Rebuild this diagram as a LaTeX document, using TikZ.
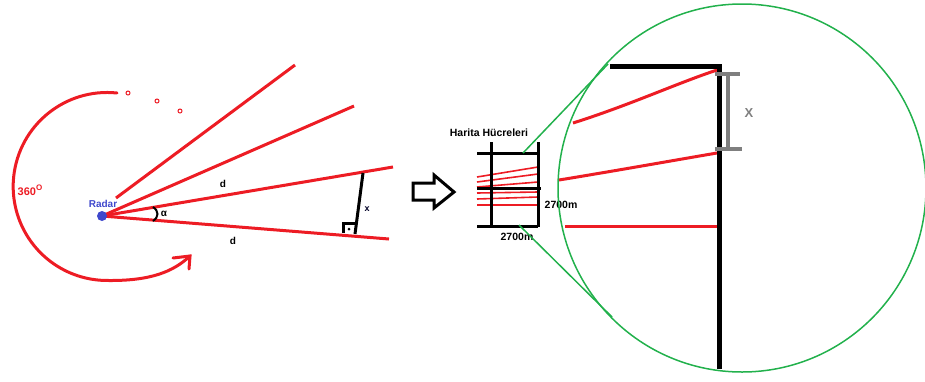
\documentclass[tikz,border=0pt]{standalone}
\usepackage{fontspec}
\setmainfont{Liberation Sans}
\definecolor{pred}{HTML}{ED1C24}
\definecolor{pgreen}{HTML}{22B14C}
\definecolor{pblue}{HTML}{3F48CC}
\definecolor{pgray}{HTML}{7F7F7F}
\tikzset{
  redln/.style={draw=pred,line width=3pt},
  blkln/.style={draw=black,line width=3pt},
  bigblk/.style={draw=black,line width=5pt},
  grnln/.style={draw=pgreen,line width=1.5pt},
  gryln/.style={draw=pgray,line width=3.5pt},
  lbl/.style={inner sep=0pt,font=\bfseries\fontsize{10}{12}\selectfont},
}
\begin{document}
\begin{tikzpicture}[x=1pt,y=-1pt]
\useasboundingbox (0,0) rectangle (925,381);
% ---------- left: radar ----------
\coordinate (R) at (102,216);
\coordinate (l1s) at (116,198); \coordinate (l1e) at (295,65);
\coordinate (l2e) at (354,106);
\coordinate (l3e) at (393,167);
\coordinate (l4e) at (389,239);
\draw[redln] (l1s) -- (l1e);
\draw[redln] (R) -- (l2e);
\draw[redln] (R) -- (l3e);
\draw[redln] (R) -- (l4e);
\node[circle,fill=pblue,minimum size=10pt,inner sep=0pt] (radar) at (R) {};
\node[lbl,text=pblue] (radarlbl) at (103,204) {Radar};
% sweep arc
\coordinate (as) at (117,93);
\coordinate (ae) at (190,256);
\draw[redln,line cap=round] (as) arc[start angle=-84,end angle=-270,radius=94]
  .. controls (150,281) and (173,272) .. (ae);
\coordinate (ah1) at (173,258); \coordinate (ah2) at (189,269);
\draw[redln,line cap=round,line join=miter] (ah1) -- (ae) -- (ah2);
\node[inner sep=0pt,text=pred,font=\bfseries\fontsize{11}{12}\selectfont] (deg) at (30,190) {360\raisebox{0.45em}{\fontsize{8}{8}\selectfont O}};
% dots
\foreach \p/\n in {(128,93)/da,(157,101)/db,(180,111)/dc}
  \node[circle,draw=pred,line width=1pt,fill=white,minimum size=4pt,inner sep=0pt] (\n) at \p {};
% labels d, alpha
\node[lbl] (d1) at (223,184) {d};
\node[lbl] (d2) at (233,241) {d};
\coordinate (b1) at (153,207); \coordinate (b2) at (153,221);
\draw[line width=2pt] (b1) .. controls (159,211) and (159,217) .. (b2);
\node[lbl] (alpha) at (164,214) {α};
% perpendicular x
\coordinate (p1) at (363,173); \coordinate (p2) at (355,234);
\draw[blkln] (p1) -- (p2);
\coordinate (q1) at (343,233); \coordinate (q2) at (343,223); \coordinate (q3) at (357,223);
\draw[blkln,line join=miter] (q1) -- (q2) -- (q3);
\fill (349,229) circle (1.5pt);
\node[lbl,font=\bfseries\fontsize{9}{10}\selectfont,text=black!85!blue] (xl) at (367,209) {x};
% ---------- hollow arrow ----------
\draw[line width=3pt,line join=miter] (413,183) -- (434,183) -- (434,175) -- (454,192)
  -- (434,208) -- (434,200) -- (413,200) -- cycle;
% ---------- grid ----------
\node[lbl,font=\bfseries\fontsize{10.5}{12}\selectfont] (title) at (489,133) {Harita Hücreleri};
\foreach \a/\b in {177/167,182/174,187/182,193/192,199/197,205/205}
  \draw[draw=pred,line width=1.6pt] (477,\a) -- (538,\b);
\draw[blkln] (491,142) -- (491,227);
\draw[blkln] (538,142) -- (538,227);
\draw[blkln] (477,153) -- (538,153);
\draw[blkln] (477,226) -- (538,226);
\draw[blkln] (477,188) -- (541,188);
\node[lbl,font=\bfseries\fontsize{10.5}{12}\selectfont] (w1) at (561,205) {2700m};
\node[lbl,font=\bfseries\fontsize{10.5}{12}\selectfont] (w2) at (517,237) {2700m};
% ---------- magnifier ----------
\coordinate (gc) at (742,188);
\draw[grnln] (gc) circle (184);
\coordinate (g1) at (523,153); \coordinate (g2) at (608,64);
\coordinate (g3) at (519,225); \coordinate (g4) at (612,317);
\draw[grnln] (g1) -- (g2);
\draw[grnln] (g3) -- (g4);
\coordinate (r1s) at (573,123); \coordinate (r1e) at (717,70);
\coordinate (r2s) at (559,180); \coordinate (r2e) at (717,153);
\coordinate (r3s) at (565,226); \coordinate (r3e) at (717,226);
\draw[redln] (r1s) .. controls (630,105) and (675,84) .. (r1e);
\draw[redln] (r2s) .. controls (620,170) and (670,161) .. (r2e);
\draw[redln] (r3s) -- (r3e);
\coordinate (k1) at (610,66); \coordinate (k2) at (719,66); \coordinate (k3) at (719,369);
\draw[bigblk,line join=miter] (k1) -- (k2) -- (k3);
\coordinate (i1) at (728,74); \coordinate (i2) at (728,149);
\draw[gryln] (i1) -- (i2);
\draw[gryln] (715,74) -- (740,74);
\draw[gryln] (715,149) -- (742,149);
\node[inner sep=0pt,text=pgray,font=\bfseries\fontsize{13}{14}\selectfont] (X) at (749,113) {X};
\end{tikzpicture}
\end{document}
